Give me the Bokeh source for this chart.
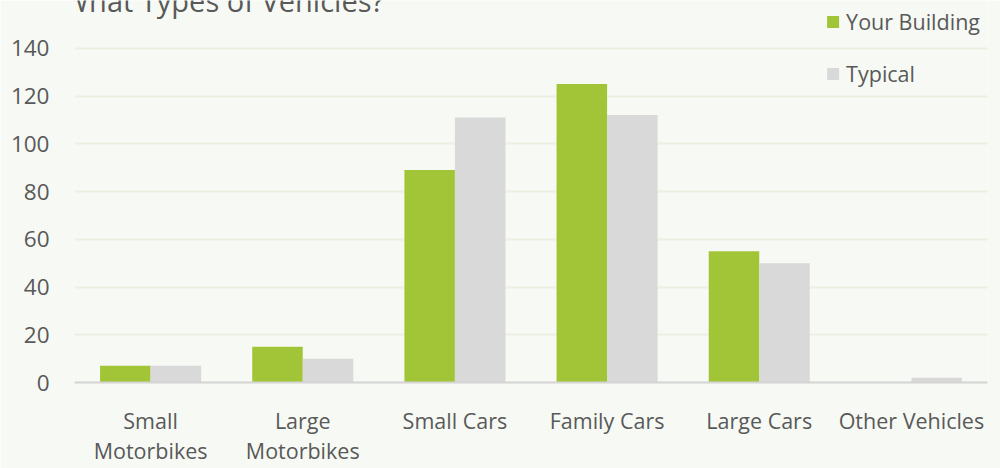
from bokeh.plotting import figure
from bokeh.models import (FactorRange, Range1d, FixedTicker, Legend, LegendItem,
                          Label, ColumnDataSource)
from bokeh.transform import dodge
from bokeh.embed import file_html
from bokeh.resources import INLINE

categories = ["Small\nMotorbikes", "Large\nMotorbikes", "Small Cars", "Family Cars",
              "Large Cars", "Other Vehicles"]
your_building = [7, 15, 89, 125, 55, 0]
typical = [7, 10, 111, 112, 50, 2]
y_ticks = [0, 20, 40, 60, 80, 100, 120, 140]
title_text = "What Types of Vehicles?"

BG = "#f7f9f4"
GREEN = "#a2c538"
GRAY = "#d9d9d9"
TXT = "#595959"
FONT = "Open Sans"

src = ColumnDataSource(dict(cat=categories, yb=your_building, ty=typical))

p = figure(x_range=FactorRange(*categories, range_padding=0),
           y_range=Range1d(0, 160),
           width=1000, height=468, output_backend="svg", toolbar_location=None,
           min_border_left=74, min_border_right=13, min_border_top=0,
           min_border_bottom=80)
p.background_fill_color = BG
p.border_fill_color = BG
p.outline_line_color = None

r1 = p.vbar(x=dodge("cat", -0.166, range=p.x_range), top="yb", width=0.332,
            source=src, fill_color=GREEN, line_color=None)
r2 = p.vbar(x=dodge("cat", 0.166, range=p.x_range), top="ty", width=0.332,
            source=src, fill_color=GRAY, line_color=None)

p.yaxis.ticker = FixedTicker(ticks=y_ticks)
p.yaxis.axis_line_color = None
p.yaxis.major_tick_line_color = None
p.yaxis.minor_tick_line_color = None
p.yaxis.major_tick_in = 0
p.yaxis.major_tick_out = 0
p.yaxis.major_label_text_font = FONT
p.yaxis.major_label_text_font_size = "22.5px"
p.yaxis.major_label_text_color = TXT
p.yaxis.major_label_standoff = 25

p.xaxis.axis_line_color = "#d4d4d4"
p.xaxis.axis_line_width = 2
p.xaxis.major_tick_line_color = None
p.xaxis.minor_tick_line_color = None
p.xaxis.major_tick_in = 0
p.xaxis.major_tick_out = 0
p.xaxis.major_label_text_font = FONT
p.xaxis.major_label_text_font_size = "21.5px"
p.xaxis.major_label_text_color = TXT
p.xaxis.major_label_standoff = 23
p.xaxis.major_label_text_line_height = 1.06

p.xgrid.grid_line_color = None
p.ygrid.ticker = FixedTicker(ticks=y_ticks)
p.ygrid.grid_line_color = "#ecf0e2"
p.ygrid.grid_line_width = 2

p.add_layout(Label(x=-0.08, y=160, text=title_text, text_font=FONT,
                   text_font_size="29px", text_color=TXT,
                   text_baseline="alphabetic"))

legend = Legend(items=[LegendItem(label="Your Building", renderers=[r1]),
                       LegendItem(label="Typical", renderers=[r2])],
                location="top_right", orientation="vertical",
                glyph_width=15, glyph_height=15, label_standoff=6,
                label_height=22, spacing=23, padding=14, margin=7,
                label_text_font=FONT, label_text_font_size="21.5px",
                label_text_color=TXT, background_fill_alpha=0,
                border_line_color=None)
p.add_layout(legend)

open("out.html", "w").write(file_html(p, INLINE))
